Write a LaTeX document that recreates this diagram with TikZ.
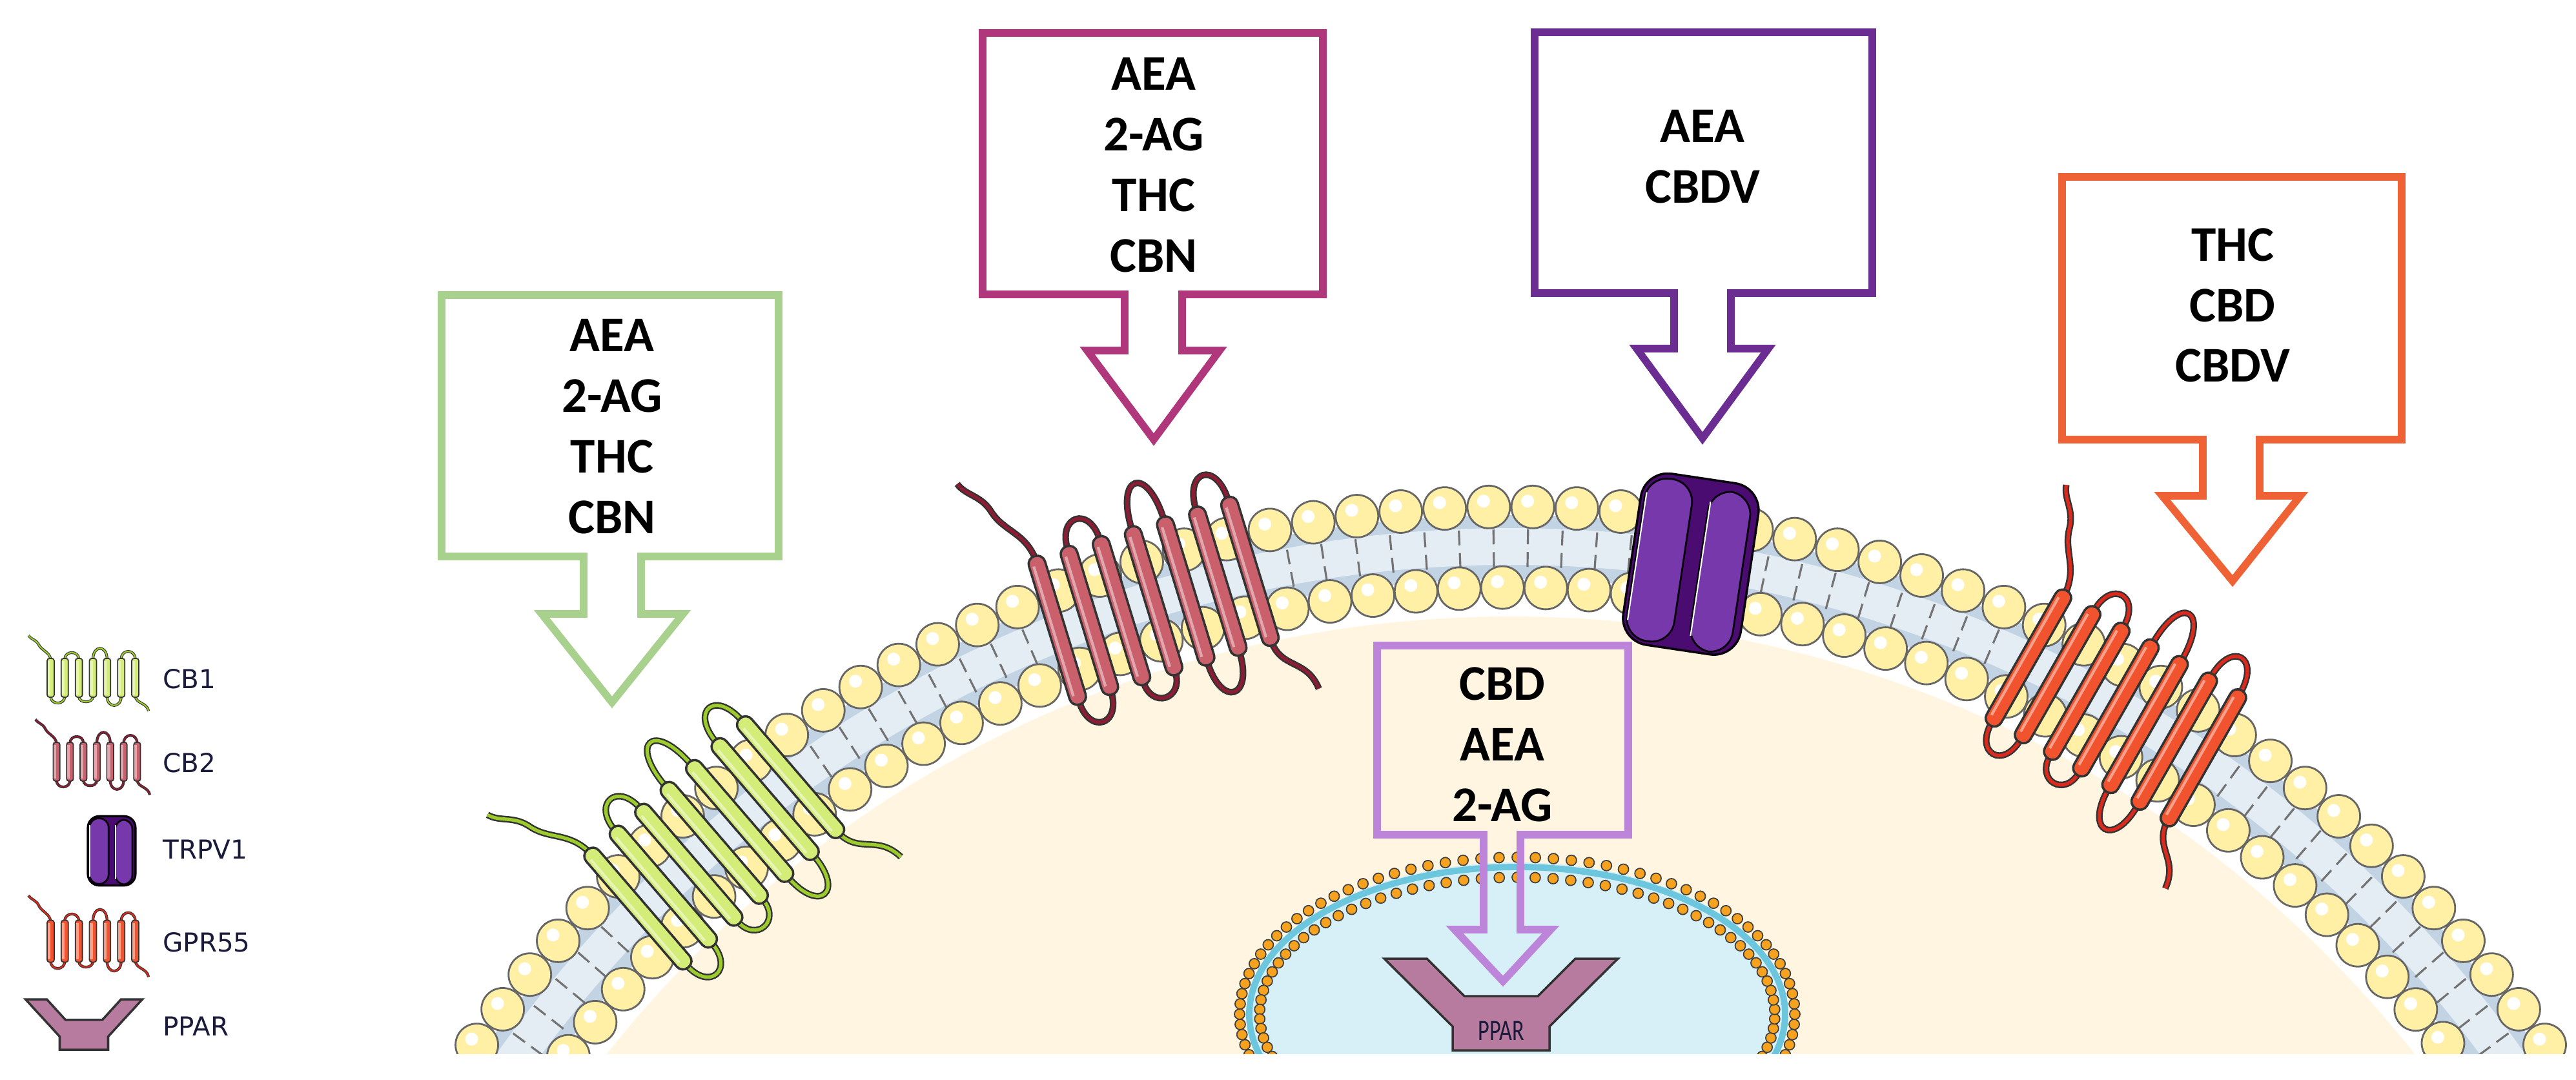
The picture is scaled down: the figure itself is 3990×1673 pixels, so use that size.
\documentclass[tikz,border=0pt]{standalone}
\usepackage{fontspec}
\setmainfont{Carlito}
\newfontfamily\legfont{DejaVu Sans}
\definecolor{cream}{HTML}{FFF5E1}
\definecolor{beadY}{HTML}{FFF0A5}
\definecolor{tailA}{HTML}{C2D3E3}
\definecolor{tailB}{HTML}{E4ECF4}
\definecolor{nucFill}{HTML}{D7EFF6}
\definecolor{nucRing}{HTML}{6CC6DD}
\definecolor{nucBead}{HTML}{F6A21E}
\definecolor{cbone}{HTML}{D4EC78}
\definecolor{cboneL}{HTML}{9CCB2E}
\definecolor{cbtwo}{HTML}{C9606C}
\definecolor{cbtwoL}{HTML}{8A1C33}
\definecolor{gpr}{HTML}{F2532F}
\definecolor{gprL}{HTML}{DA2A1E}
\definecolor{trpD}{HTML}{4B0C72}
\definecolor{trpL}{HTML}{7638AA}
\definecolor{ppar}{HTML}{B87BA0}
\definecolor{gbox}{HTML}{A9D18E}
\definecolor{mbox}{HTML}{B0377C}
\definecolor{pbox}{HTML}{6B2D91}
\definecolor{obox}{HTML}{EE6236}
\definecolor{lbox}{HTML}{BC85D9}
\definecolor{legtext}{HTML}{1A1A3A}
\tikzset{
  helixsty/.style={draw=black!80, line width=1pt, rounded corners=3.5pt},
  loopsty/.style={draw=black!80, line width=0.7pt, double distance=1.5pt},
  bead/.style={fill=beadY, draw=black!60, line width=0.8pt},
  nbead/.style={fill=nucBead, draw=black!75, line width=0.5pt},
  boxarrow/.style={line width=3.3pt, line join=miter},
  lbl/.style={align=center, font=\fontsize{22}{26.7}\selectfont\bfseries, text=black},
  leg/.style={anchor=west, font=\legfont\fontsize{11.5}{13}\selectfont, text=legtext}
}
\newcommand\mygpcr[2]{%
    \draw[loopsty, double=#2] (-156,115) .. controls (-160,160) and (-190,170) .. (-200,205) .. controls (-208,235) and (-230,240) .. (-238,262);
    \draw[loopsty, double=#2] (-104,115) .. controls (-104,170) and (-52,170) .. (-52,115);
    \draw[loopsty, double=#2] (0,115) .. controls (0,205) and (52,205) .. (52,115);
    \draw[loopsty, double=#2] (104,115) .. controls (104,180) and (156,180) .. (156,115);
    \draw[loopsty, double=#2] (-156,-115) .. controls (-156,-170) and (-104,-170) .. (-104,-115);
    \draw[loopsty, double=#2] (-52,-115) .. controls (-52,-160) and (0,-160) .. (0,-115);
    \draw[loopsty, double=#2] (52,-115) .. controls (52,-190) and (104,-190) .. (104,-115);
    \draw[loopsty, double=#2] (156,-115) .. controls (160,-160) and (200,-155) .. (205,-205);
    \foreach \x in {-156,-104,-52,0,52,104,156}{
      \filldraw[helixsty, fill=#1] ({\x-13},-120) rectangle ({\x+13},120);
      \draw[white, opacity=.45, line width=1.2pt] ({\x-6},-105) -- ({\x-6},105);
    }}
\newcommand\mytrpv[2]{%
    \filldraw[fill=trpD, draw=black!90!trpD, line width=1pt, rounded corners=#1] (-92,-134) rectangle (92,134);
    \filldraw[fill=trpL, draw=black!90!trpD, line width=0.8pt, rounded corners=#2] (-86,-128) rectangle (-12,126);
    \filldraw[fill=trpL, draw=black!90!trpD, line width=0.8pt, rounded corners=#2] (14,-130) rectangle (80,120);
    \draw[white, line width=0.6pt] (16,-110) -- (16,100);
    \draw[white, line width=0.6pt] (-84,-100) -- (-84,100);}
\newcommand\myppar{%
    \filldraw[fill=ppar, draw=black!80, line width=1pt, line join=miter]
      (-181,0) -- (-115,0) -- (-57,-58) -- (57,-58) -- (115,0) -- (181,0) -- (75,-105) -- (75,-142) -- (-75,-142) -- (-75,-105) -- cycle;}
\begin{document}
\begin{tikzpicture}[x=0.01cm,y=0.01cm]
\useasboundingbox (0,0) rectangle (3990,-1673);
\begin{scope}
\clip (0,0) rectangle (3990,-1632);
% ---- cell membrane ----
\begin{scope}[shift={(2340,-2740)}]
  \fill[cream] (0,0) circle (1785);
  \fill[tailA, even odd rule] (0,0) circle (1942) (0,0) circle (1843);
  \fill[tailB, even odd rule] (0,0) circle (1922) (0,0) circle (1865);
  \foreach \t in {30,31.6,...,150}{
    \draw[black!55, line width=0.9pt] (\t:1920) -- (\t:1897);
    \draw[black!55, line width=0.9pt] (\t:1885) -- (\t:1862);
  }
  \foreach \t in {29,31,...,151}{
    \filldraw[bead] (\t:1955) circle (33);
    \fill[white] ([shift={(-8,9)}]\t:1955) circle (10);
  }
  \foreach \t in {29.5,31.6,...,151}{
    \filldraw[bead] (\t:1830) circle (33);
    \fill[white] ([shift={(-8,9)}]\t:1830) circle (10);
  }
\end{scope}
% ---- nucleus ----
\begin{scope}[shift={(2350,-1571)}]
  \fill[nucFill] (0,0) ellipse (420 and 235);
  \draw[nucRing, line width=2.8pt] (0,0) ellipse (415 and 228);
  \foreach \t in {-30,-26.25,...,210}{
    \filldraw[nbead] ({430*cos(\t)},{243*sin(\t)}) circle (8);
  }
  \foreach \t in {-30,-26,...,210}{
    \filldraw[nbead] ({399*cos(\t)},{212*sin(\t)}) circle (8);
  }
\end{scope}
\begin{scope}[shift={(2325,-1485)}]
  \myppar
\end{scope}
\node[font=\fontsize{13}{14}\selectfont, text=legtext, xscale=0.75] (ppt) at (2325,-1597) {PPAR};
% ---- receptors ----
\begin{scope}[shift={(2340,-2740)}]
  \begin{scope}[shift={(130.7:1892)}, rotate=40.7]
    \mygpcr{cbone}{cboneL}
  \end{scope}
  \begin{scope}[shift={(107:1892)}, rotate=17]
    \mygpcr{cbtwo}{cbtwoL}
  \end{scope}
  \begin{scope}[shift={(60.3:1892)}, rotate=-29.7]
    \mygpcr{gpr}{gprL}
  \end{scope}
  \begin{scope}[shift={(81.5:1887)}, rotate=-8.5]
    \mytrpv{12pt}{10pt}
  \end{scope}
\end{scope}
% ---- block arrows ----
\filldraw[boxarrow, draw=gbox, fill=white] (684,-457) -- (1206,-457) -- (1206,-862) -- (993,-862) -- (993,-951) -- (1058,-951) -- (948,-1088) -- (839,-951) -- (904,-951) -- (904,-862) -- (684,-862) -- cycle;
\filldraw[boxarrow, draw=mbox, fill=white] (1522,-51) -- (2049,-51) -- (2049,-456) -- (1831,-456) -- (1831,-543) -- (1889,-543) -- (1787,-681) -- (1684,-543) -- (1742,-543) -- (1742,-456) -- (1522,-456) -- cycle;
\filldraw[boxarrow, draw=pbox, fill=white] (2377,-50) -- (2900,-50) -- (2900,-454) -- (2681,-454) -- (2681,-540) -- (2739,-540) -- (2637,-679) -- (2535,-540) -- (2593,-540) -- (2593,-454) -- (2377,-454) -- cycle;
\filldraw[boxarrow, draw=obox, fill=white] (3194,-274) -- (3720,-274) -- (3720,-681) -- (3500,-681) -- (3500,-768) -- (3563,-768) -- (3458,-900) -- (3349,-768) -- (3412,-768) -- (3412,-681) -- (3194,-681) -- cycle;
\draw[boxarrow, draw=lbox] (2133,-1000) -- (2522,-1000) -- (2522,-1293) -- (2355,-1293) -- (2355,-1440) -- (2402,-1440) -- (2328,-1520) -- (2253,-1440) -- (2298,-1440) -- (2298,-1293) -- (2133,-1293) -- cycle;
\node[lbl] (tg) at (948,-661) {AEA\\2-AG\\THC\\CBN};
\node[lbl] (tm) at (1787,-256) {AEA\\2-AG\\THC\\CBN};
\node[lbl] (tp) at (2637,-243) {AEA\\CBDV};
\node[lbl] (to) at (3458,-473) {THC\\CBD\\CBDV};
\node[lbl] (tl) at (2327,-1153) {CBD\\AEA\\2-AG};
% ---- legend ----
\begin{scope}
  \tikzset{helixsty/.style={draw=black!80, line width=0.5pt, rounded corners=1pt},
           loopsty/.style={draw=black!80, line width=0.3pt, double distance=0.6pt}}
  \begin{scope}[shift={(144,-1050)}, xscale=0.42, yscale=0.25]
    \mygpcr{cbone}{cboneL}
  \end{scope}
  \begin{scope}[shift={(150,-1180)}, xscale=0.4, yscale=0.25]
    \mygpcr{cbtwo}{cbtwoL}
  \end{scope}
  \begin{scope}[shift={(144,-1458)}, xscale=0.42, yscale=0.27]
    \mygpcr{gpr}{gprL}
  \end{scope}
  \begin{scope}[shift={(173,-1318)}, scale=0.4]
    \mytrpv{5pt}{4pt}
  \end{scope}
  \begin{scope}[shift={(130,-1548)}, xscale=0.5, yscale=0.55]
    \myppar
  \end{scope}
\end{scope}
\node[leg] (n1) at (240,-1052) {CB1};
\node[leg] (n2) at (240,-1182) {CB2};
\node[leg] (n3) at (240,-1316) {TRPV1};
\node[leg] (n4) at (240,-1460) {GPR55};
\node[leg] (n5) at (240,-1590) {PPAR};
\end{scope}
\end{tikzpicture}
\end{document}
